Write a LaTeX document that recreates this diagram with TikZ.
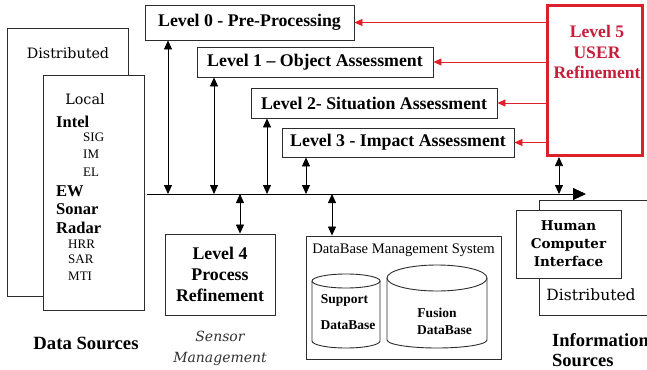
\documentclass[tikz,border=0pt]{standalone}
\usepackage{fontspec}
\setmainfont{Liberation Serif}
\newfontfamily\djs{DejaVu Serif}
\usetikzlibrary{arrows.meta}
\definecolor{boxline}{RGB}{45,45,45}
\definecolor{lvred}{RGB}{222,32,42}
\definecolor{lvtext}{RGB}{200,30,60}
\tikzset{
  box/.style={draw=boxline, line width=0.9pt, fill=white, inner sep=0pt},
  lvbox/.style={box, font=\fontsize{17.8}{20}\selectfont\bfseries},
  dbl/.style={line width=0.8pt, {Triangle[length=9pt,width=8pt]}-{Triangle[length=9pt,width=8pt]}},
  redarr/.style={draw=lvred, line width=0.8pt, -{Triangle[length=8pt,width=7pt]}, lvred},
  bold/.style={font=\fontsize{#1}{#1}\selectfont\bfseries, inner sep=0pt},
  reg/.style={font=\fontsize{#1}{#1}\selectfont, inner sep=0pt},
  dj/.style={font=\djs\fontsize{#1}{#1}\selectfont, inner sep=0pt},
}
\begin{document}
\begin{tikzpicture}[x=1pt,y=-1pt]
\useasboundingbox (0,0) rectangle (647,369);
\clip (0,0) rectangle (647,369);
\fill[white] (0,0) rectangle (647,369);

% Data sources
\node[box, minimum width=121pt, minimum height=268pt] (dist) at (67.5,162) {};
\node[dj=14.3] (disttxt) at (68,53) {Distributed};
\node[box, minimum width=101pt, minimum height=235pt] (local) at (93.5,192.5) {};
\node[dj=14.3] (localtxt) at (85,99) {Local};
\node[bold=16.5, anchor=west] (intel) at (56,122) {Intel};
\node[reg=13, anchor=west] (sig) at (83,137) {SIG};
\node[reg=13, anchor=west] (im) at (83,154) {IM};
\node[reg=13, anchor=west] (el) at (83,172) {EL};
\node[bold=16.5, anchor=west] (ew) at (56,191) {EW};
\node[bold=16.5, anchor=west] (sonar) at (56,209) {Sonar};
\node[bold=16.5, anchor=west] (radar) at (56,228) {Radar};
\node[reg=13, anchor=west] (hrr) at (68,244) {HRR};
\node[reg=13, anchor=west] (sar) at (68,259) {SAR};
\node[reg=13, anchor=west] (mti) at (68,276) {MTI};
\node[bold=18.7] (datasrc) at (86,343) {Data Sources};

% Level boxes
\node[lvbox, minimum width=209pt, minimum height=35pt] (lv0) at (249.5,22.5) {Level 0 - Pre-Processing};
\node[lvbox, minimum width=236pt, minimum height=30pt] (lv1) at (315,62) {Level 1 -- Object Assessment};
\node[lvbox, minimum width=246pt, minimum height=30pt] (lv2) at (374,103) {Level 2- Situation Assessment};
\node[lvbox, minimum width=232pt, minimum height=29pt] (lv3) at (398,142.5) {Level 3 - Impact Assessment};

% Level 5
\node[draw=lvred, line width=2.6pt, minimum width=95.5pt, minimum height=150.5pt, inner sep=0pt] (lv5) at (595,80.5) {};
\node[font=\fontsize{17.6}{20.5}\selectfont\bfseries, text=lvtext, align=center, inner sep=0pt] (lv5txt) at (597,52) {Level 5\\USER\\Refinement};

\draw[redarr] (lv5.west |- lv0.east) -- (lv0.east);
\draw[redarr] (lv5.west |- lv1.east) -- (lv1.east);
\draw[redarr] (lv5.west |- lv2.east) -- (lv2.east);
\draw[redarr] (lv5.west |- lv3.east) -- (lv3.east);

% Bus
\coordinate (busL) at (147,194);
\coordinate (busR) at (586,194);
\draw[line width=0.9pt, -{Triangle[length=13pt,width=12pt]}] (busL) -- (busR);
\coordinate (b0) at (168,194);
\coordinate (b1) at (214,194);
\coordinate (b2) at (267,194);
\coordinate (b3) at (306,194);
\coordinate (b4) at (240,194);
\coordinate (bdb) at (332,194);
\coordinate (b5) at (559,194);
\draw[dbl] (b0) -- (b0 |- lv0.south);
\draw[dbl] (b1) -- (b1 |- lv1.south);
\draw[dbl] (b2) -- (b2 |- lv2.south);
\draw[dbl] (b3) -- (b3 |- lv3.south);
\draw[dbl] (b5) -- (b5 |- lv5.south);

% Level 4
\node[box, minimum width=110pt, minimum height=81pt, align=center,
  font=\fontsize{17.8}{21}\selectfont\bfseries] (lv4) at (220,274.5) {Level 4\\Process\\Refinement};
\draw[dbl] (b4) -- (b4 |- lv4.north);
\node[font=\djs\itshape\fontsize{14}{21}\selectfont, align=center, inner sep=0pt, text=black!80] (sensor) at (220,348.5) {Sensor\\Management};

% DBMS
\node[box, minimum width=195pt, minimum height=123pt] (dbms) at (403.5,297.5) {};
\draw[dbl] (bdb) -- (bdb |- dbms.north);
\node[reg=14.6] (dbmstxt) at (403.5,250) {DataBase Management System};
% Support cylinder
\draw[boxline, line width=0.9pt] (346,281) ellipse [x radius=34, y radius=7];
\draw[boxline, line width=0.9pt] (312,281) -- (312,341) arc[start angle=180, end angle=360, x radius=34, y radius=-7] -- (380,281);
\node[bold=13.5] (suptxt) at (344.5,300.5) {Support};
\node[bold=13.5] (supdb) at (348,325) {DataBase};
% Fusion cylinder
\draw[boxline, line width=0.9pt] (437,278) ellipse [x radius=50, y radius=13];
\draw[boxline, line width=0.9pt] (387,278) -- (387,340) arc[start angle=180, end angle=360, x radius=50, y radius=-8] -- (487,278);
\node[bold=13.5] (fustxt) at (437,313) {Fusion};
\node[bold=13.5] (fusdb) at (444.5,330.5) {DataBase};

% Information sources
\node[box, minimum width=121pt, minimum height=115pt] (hciback) at (599.5,257.5) {};
\node[dj=15.5] (hcidist) at (591,295) {Distributed};
\node[box, minimum width=105pt, minimum height=68pt, align=center,
  font=\djs\bfseries\fontsize{13.5}{18}\selectfont] (hci) at (568.5,244) {Human\\Computer\\Interface};
\node[bold=18.5, anchor=west] (infotxt) at (552,340) {Information};
\node[bold=18.5, anchor=west] (srctxt) at (552,360) {Sources};
\end{tikzpicture}
\end{document}
